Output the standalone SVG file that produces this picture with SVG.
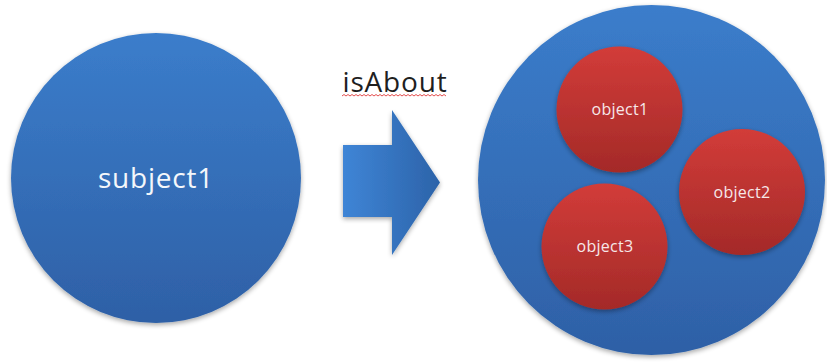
<svg xmlns="http://www.w3.org/2000/svg" width="827" height="364" viewBox="0 0 827 364">
  <style>
    .lbl { font-family: "Open Sans", "Liberation Sans", sans-serif; text-anchor: middle; }
    .big { font-size: 28px; fill: #f4f7fb; letter-spacing: 0.8px; }
    .obj { font-size: 16px; fill: #f6e8e8; letter-spacing: 0.3px; }
    .rel { font-size: 28px; fill: #1f1f1f; letter-spacing: 0.8px; }
  </style>
  <defs>
    <linearGradient id="gBlue" x1="0" y1="0" x2="0" y2="1">
      <stop offset="0" stop-color="#3b7dcb"/>
      <stop offset="1" stop-color="#2e60a6"/>
    </linearGradient>
    <linearGradient id="gRed" x1="0" y1="0" x2="0" y2="1">
      <stop offset="0" stop-color="#d23c39"/>
      <stop offset="1" stop-color="#a42a28"/>
    </linearGradient>
    <linearGradient id="gArrow" x1="0" y1="0" x2="1" y2="0">
      <stop offset="0" stop-color="#3f85d6"/>
      <stop offset="1" stop-color="#2c63a9"/>
    </linearGradient>
    <filter id="sh" x="-10%" y="-10%" width="120%" height="125%">
      <feGaussianBlur in="SourceAlpha" stdDeviation="2.5"/>
      <feOffset dy="2" result="b"/>
      <feComponentTransfer><feFuncA type="linear" slope="0.35"/></feComponentTransfer>
      <feMerge><feMergeNode/><feMergeNode in="SourceGraphic"/></feMerge>
    </filter>
  </defs>
  <rect width="827" height="364" fill="#ffffff"/>

  <g id="subject1">
    <circle cx="156" cy="178" r="145" fill="url(#gBlue)" filter="url(#sh)"/>
    <text class="lbl big" x="156" y="188">subject1</text>
  </g>

  <g id="connectors">
    <g id="isAbout">
      <polygon points="343,145 392,145 392,110 440,182.5 392,255 392,217 343,217" fill="url(#gArrow)" filter="url(#sh)"/>
      <text class="lbl rel" x="395" y="92">isAbout</text>
      <path d="M342,96 l2,-1.5 l2,1.5 l2,-1.5 l2,1.5 l2,-1.5 l2,1.5 l2,-1.5 l2,1.5 l2,-1.5 l2,1.5 l2,-1.5 l2,1.5 l2,-1.5 l2,1.5 l2,-1.5 l2,1.5 l2,-1.5 l2,1.5 l2,-1.5 l2,1.5 l2,-1.5 l2,1.5 l2,-1.5 l2,1.5 l2,-1.5 l2,1.5 l2,-1.5 l2,1.5 l2,-1.5 l2,1.5 l2,-1.5 l2,1.5 l2,-1.5 l2,1.5 l2,-1.5 l2,1.5 l2,-1.5 l2,1.5 l2,-1.5 l2,1.5 l2,-1.5 l2,1.5 l2,-1.5 l2,1.5 l2,-1.5 l2,1.5 l2,-1.5 l2,1.5 l2,-1.5 l2,1.5 l2,-1.5 l2,1.5" fill="none" stroke="#e03a3a" stroke-width="0.9"/>
    </g>
  </g>

  <g id="objectSet">
    <ellipse cx="651.5" cy="180" rx="173.5" ry="175" fill="url(#gBlue)" filter="url(#sh)"/>
  </g>

  <g id="object1">
    <circle cx="619.5" cy="109.5" r="63" fill="url(#gRed)" filter="url(#sh)"/>
    <text class="lbl obj" x="620" y="115">object1</text>
  </g>
  <g id="object2">
    <circle cx="742" cy="192" r="63" fill="url(#gRed)" filter="url(#sh)"/>
    <text class="lbl obj" x="742" y="198">object2</text>
  </g>
  <g id="object3">
    <circle cx="604.5" cy="246.5" r="63" fill="url(#gRed)" filter="url(#sh)"/>
    <text class="lbl obj" x="605" y="252">object3</text>
  </g>
</svg>
